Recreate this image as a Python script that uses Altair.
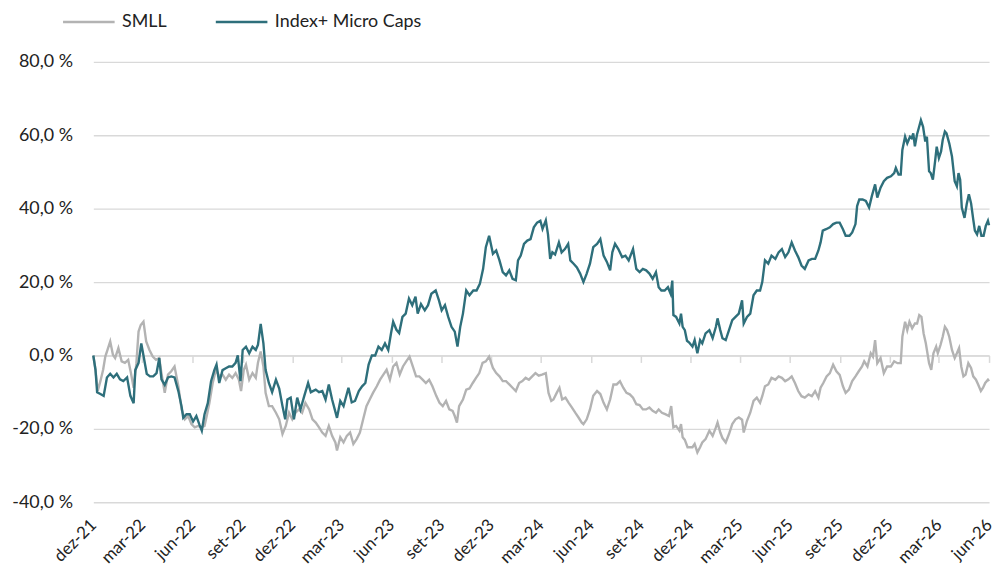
import altair as alt
import pandas as pd

# ---------------- data ----------------
smll_dates = [
    "2021-12-01", "2021-12-05", "2021-12-09", "2021-12-14", "2021-12-19", "2021-12-23", "2021-12-27",
    "2022-01-01", "2022-01-06", "2022-01-10", "2022-01-16", "2022-01-22", "2022-01-28", "2022-02-03",
    "2022-02-08", "2022-02-13", "2022-02-18", "2022-02-22", "2022-02-26", "2022-03-03", "2022-03-08",
    "2022-03-14", "2022-03-20", "2022-03-26", "2022-04-01", "2022-04-05", "2022-04-11", "2022-04-17",
    "2022-04-23", "2022-04-29", "2022-05-06", "2022-05-12", "2022-05-18", "2022-05-24", "2022-05-30",
    "2022-06-05", "2022-06-11", "2022-06-17", "2022-06-23", "2022-06-27", "2022-07-02", "2022-07-08",
    "2022-07-14", "2022-07-20", "2022-07-26", "2022-08-01", "2022-08-07", "2022-08-13", "2022-08-19",
    "2022-08-25", "2022-08-29", "2022-09-03", "2022-09-07", "2022-09-13", "2022-09-19", "2022-09-25",
    "2022-09-29", "2022-10-04", "2022-10-09", "2022-10-13", "2022-10-19", "2022-10-25", "2022-11-01",
    "2022-11-07", "2022-11-13", "2022-11-19", "2022-11-25", "2022-12-01", "2022-12-07", "2022-12-13",
    "2022-12-19", "2022-12-25", "2023-01-01", "2023-01-07", "2023-01-13", "2023-01-19", "2023-01-25",
    "2023-01-31", "2023-02-06", "2023-02-12", "2023-02-18", "2023-02-21", "2023-02-27", "2023-03-05",
    "2023-03-11", "2023-03-17", "2023-03-23", "2023-03-29", "2023-04-04", "2023-04-10", "2023-04-16",
    "2023-04-22", "2023-04-28", "2023-05-05", "2023-05-11", "2023-05-17", "2023-05-23", "2023-05-29",
    "2023-06-04", "2023-06-10", "2023-06-16", "2023-06-22", "2023-06-28", "2023-07-04", "2023-07-10",
    "2023-07-16", "2023-07-22", "2023-07-28", "2023-08-03", "2023-08-09", "2023-08-15", "2023-08-22",
    "2023-08-28", "2023-09-03", "2023-09-09", "2023-09-15", "2023-09-21", "2023-09-25", "2023-09-29",
    "2023-10-03", "2023-10-10", "2023-10-16", "2023-10-22", "2023-10-28", "2023-11-03", "2023-11-09",
    "2023-11-15", "2023-11-21", "2023-11-27", "2023-12-04", "2023-12-10", "2023-12-16", "2023-12-22",
    "2023-12-28", "2024-01-03", "2024-01-09", "2024-01-15", "2024-01-21", "2024-01-27", "2024-02-02",
    "2024-02-08", "2024-02-14", "2024-02-20", "2024-02-26", "2024-03-03", "2024-03-10", "2024-03-15",
    "2024-03-20", "2024-03-24", "2024-03-30", "2024-04-04", "2024-04-09", "2024-04-15", "2024-04-21",
    "2024-04-27", "2024-05-03", "2024-05-09", "2024-05-15", "2024-05-18", "2024-05-24", "2024-05-30",
    "2024-06-05", "2024-06-12", "2024-06-18", "2024-06-24", "2024-06-30", "2024-07-06", "2024-07-12",
    "2024-07-18", "2024-07-24", "2024-07-30", "2024-08-05", "2024-08-11", "2024-08-17", "2024-08-23",
    "2024-08-29", "2024-09-04", "2024-09-10", "2024-09-16", "2024-09-22", "2024-09-28", "2024-10-03",
    "2024-10-09", "2024-10-15", "2024-10-22", "2024-10-26", "2024-10-30", "2024-11-04", "2024-11-10",
    "2024-11-13", "2024-11-16", "2024-11-20", "2024-11-25", "2024-11-28", "2024-12-04", "2024-12-08",
    "2024-12-13", "2024-12-18", "2024-12-22", "2024-12-28", "2025-01-04", "2025-01-10", "2025-01-16",
    "2025-01-19", "2025-01-24", "2025-01-28", "2025-02-03", "2025-02-09", "2025-02-15", "2025-02-21",
    "2025-02-27", "2025-03-05", "2025-03-08", "2025-03-14", "2025-03-20", "2025-03-26", "2025-04-01",
    "2025-04-07", "2025-04-11", "2025-04-16", "2025-04-22", "2025-04-28", "2025-05-05", "2025-05-11",
    "2025-05-17", "2025-05-23", "2025-05-29", "2025-06-04", "2025-06-10", "2025-06-16", "2025-06-22",
    "2025-06-28", "2025-07-05", "2025-07-11", "2025-07-17", "2025-07-23", "2025-07-27", "2025-08-01",
    "2025-08-07", "2025-08-13", "2025-08-19", "2025-08-25", "2025-08-31", "2025-09-06", "2025-09-11",
    "2025-09-17", "2025-09-23", "2025-09-29", "2025-10-05", "2025-10-11", "2025-10-15", "2025-10-21",
    "2025-10-27", "2025-10-31", "2025-11-04", "2025-11-08", "2025-11-14", "2025-11-20", "2025-11-26",
    "2025-12-03", "2025-12-09", "2025-12-15", "2025-12-21", "2025-12-24", "2025-12-29", "2026-01-02",
    "2026-01-06", "2026-01-11", "2026-01-16", "2026-01-20", "2026-01-24", "2026-01-28", "2026-02-01",
    "2026-02-05", "2026-02-11", "2026-02-15", "2026-02-19", "2026-02-24", "2026-02-27", "2026-03-04",
    "2026-03-08", "2026-03-12", "2026-03-16", "2026-03-20", "2026-03-25", "2026-03-30", "2026-04-03",
    "2026-04-07", "2026-04-11", "2026-04-15", "2026-04-19", "2026-04-24", "2026-04-29", "2026-05-03",
    "2026-05-08", "2026-05-12", "2026-05-17", "2026-05-21", "2026-05-25", "2026-05-30", "2026-06-01",
]
smll_values = [
    0.0, -3.9, -9.7, -7.0, -3.9, -0.3, 1.5,
    3.8, 0.2, -0.7, 2.0, -1.6, -2.0, -1.2,
    -4.8, -8.8, -2.1, 6.5, 8.3, 9.2, 3.8,
    1.5, -0.3, -1.2, -0.7, -4.8, -10.2, -5.2,
    -4.3, -3.0, -8.4, -14.7, -17.4, -16.5, -18.7,
    -19.6, -19.2, -19.6, -19.2, -16.5, -12.9, -7.5,
    -3.9, -5.7, -5.2, -6.6, -5.2, -6.1, -4.8,
    -6.6, -9.7, -3.9, -2.5, -6.6, -4.8, -6.1,
    -2.0, 1.1, -3.0, -10.2, -13.8, -13.8, -15.6,
    -17.4, -21.4, -19.2, -15.6, -17.4, -15.6, -14.7,
    -15.6, -12.9, -14.7, -17.4, -18.3, -19.6, -21.0,
    -21.9, -19.2, -21.9, -23.7, -25.9, -22.3, -23.7,
    -21.9, -21.0, -24.1, -22.8, -21.0, -17.4, -13.8,
    -12.0, -10.2, -8.4, -6.6, -5.2, -3.9, -6.6,
    -3.0, -2.0, -5.2, -3.0, -1.6, -0.3, -3.0,
    -5.7, -5.7, -6.6, -7.5, -6.6, -8.4, -11.0,
    -12.9, -13.8, -12.4, -14.7, -15.1, -16.5, -18.3,
    -13.8, -12.0, -9.3, -9.0, -7.5, -6.1, -4.8,
    -2.0, -1.6, -0.3, -3.4, -4.8, -5.7, -7.0,
    -7.0, -7.9, -8.8, -9.7, -7.5, -7.0, -6.1,
    -6.6, -5.7, -4.8, -5.5, -5.2, -4.8, -10.2,
    -12.4, -12.0, -10.2, -8.8, -12.0, -11.5, -12.9,
    -14.2, -15.6, -16.9, -18.3, -18.7, -17.4, -14.7,
    -11.0, -9.7, -10.5, -12.9, -14.7, -12.0, -7.9,
    -7.9, -7.0, -8.8, -10.2, -10.6, -11.5, -13.3,
    -13.5, -14.7, -14.7, -14.2, -15.1, -15.6, -14.7,
    -15.6, -16.0, -16.5, -13.8, -19.6, -19.2, -20.5,
    -18.7, -22.3, -23.0, -25.0, -25.0, -25.0, -24.1,
    -26.4, -25.0, -23.7, -22.8, -20.5, -21.9, -19.6,
    -18.3, -21.0, -22.5, -23.7, -21.4, -18.7, -17.4,
    -16.9, -17.5, -21.0, -17.8, -15.6, -12.4, -11.5,
    -12.9, -11.1, -8.4, -7.9, -6.1, -6.6, -5.7,
    -6.1, -7.0, -6.5, -5.7, -7.5, -9.7, -11.1,
    -11.5, -10.6, -11.1, -9.7, -11.5, -8.8, -7.5,
    -5.7, -4.8, -2.5, -4.3, -5.3, -8.4, -10.2,
    -9.3, -7.0, -5.7, -4.3, -3.0, -1.6, -3.0,
    0.6, -0.3, 4.2, -2.1, -0.7, -4.8, -3.0,
    -3.0, -1.6, -2.1, -2.1, 5.1, 9.2, 6.9,
    9.2, 7.4, 8.7, 8.7, 11.0, 10.5, 6.0,
    3.3, -2.1, -3.9, 0.6, 2.4, 0.6, 2.9,
    5.1, 7.8, 6.9, 5.1, 1.5, -0.7, 0.6,
    2.0, -3.0, -5.7, -5.2, -2.1, -3.4, -5.7,
    -6.6, -7.9, -9.7, -8.8, -7.5, -6.6, -7.0,
]

micro_dates = [
    "2021-12-01", "2021-12-05", "2021-12-08", "2021-12-14", "2021-12-20", "2021-12-26", "2022-01-01",
    "2022-01-07", "2022-01-13", "2022-01-19", "2022-01-25", "2022-02-01", "2022-02-07", "2022-02-13",
    "2022-02-16", "2022-02-22", "2022-02-27", "2022-03-03", "2022-03-09", "2022-03-15", "2022-03-21",
    "2022-03-27", "2022-04-01", "2022-04-05", "2022-04-11", "2022-04-17", "2022-04-23", "2022-04-29",
    "2022-05-06", "2022-05-12", "2022-05-15", "2022-05-21", "2022-05-27", "2022-06-02", "2022-06-08",
    "2022-06-14", "2022-06-18", "2022-06-23", "2022-06-29", "2022-07-05", "2022-07-11", "2022-07-15",
    "2022-07-20", "2022-07-26", "2022-08-01", "2022-08-07", "2022-08-13", "2022-08-19", "2022-08-23",
    "2022-08-28", "2022-09-01", "2022-09-07", "2022-09-13", "2022-09-19", "2022-09-25", "2022-09-29",
    "2022-10-04", "2022-10-09", "2022-10-13", "2022-10-19", "2022-10-25", "2022-11-01", "2022-11-07",
    "2022-11-13", "2022-11-18", "2022-11-22", "2022-11-28", "2022-12-04", "2022-12-10", "2022-12-16",
    "2022-12-23", "2022-12-30", "2023-01-04", "2023-01-13", "2023-01-19", "2023-01-25", "2023-01-31",
    "2023-02-06", "2023-02-12", "2023-02-21", "2023-02-27", "2023-03-05", "2023-03-14", "2023-03-20",
    "2023-03-26", "2023-04-02", "2023-04-08", "2023-04-14", "2023-04-20", "2023-04-26", "2023-05-02",
    "2023-05-08", "2023-05-14", "2023-05-20", "2023-05-26", "2023-05-31", "2023-06-04", "2023-06-10",
    "2023-06-15", "2023-06-21", "2023-06-27", "2023-07-03", "2023-07-09", "2023-07-15", "2023-07-19",
    "2023-07-25", "2023-08-01", "2023-08-07", "2023-08-13", "2023-08-21", "2023-08-27", "2023-09-01",
    "2023-09-07", "2023-09-13", "2023-09-19", "2023-09-25", "2023-09-30", "2023-10-05", "2023-10-10",
    "2023-10-16", "2023-10-22", "2023-10-29", "2023-11-04", "2023-11-10", "2023-11-16", "2023-11-21",
    "2023-11-27", "2023-12-04", "2023-12-10", "2023-12-16", "2023-12-22", "2023-12-28", "2024-01-03",
    "2024-01-09", "2024-01-15", "2024-01-19", "2024-01-24", "2024-01-30", "2024-02-05", "2024-02-11",
    "2024-02-17", "2024-02-23", "2024-02-29", "2024-03-04", "2024-03-10", "2024-03-14", "2024-03-18",
    "2024-03-22", "2024-03-27", "2024-04-03", "2024-04-08", "2024-04-14", "2024-04-20", "2024-04-24",
    "2024-04-30", "2024-05-06", "2024-05-12", "2024-05-18", "2024-05-24", "2024-05-30", "2024-06-05",
    "2024-06-12", "2024-06-18", "2024-06-24", "2024-06-30", "2024-07-06", "2024-07-10", "2024-07-15",
    "2024-07-21", "2024-07-28", "2024-08-03", "2024-08-09", "2024-08-17", "2024-08-23", "2024-08-29",
    "2024-09-04", "2024-09-10", "2024-09-16", "2024-09-22", "2024-09-28", "2024-10-03", "2024-10-08",
    "2024-10-14", "2024-10-20", "2024-10-25", "2024-10-28", "2024-10-30", "2024-11-04", "2024-11-10",
    "2024-11-13", "2024-11-16", "2024-11-20", "2024-11-24", "2024-11-28", "2024-12-04", "2024-12-08",
    "2024-12-13", "2024-12-18", "2024-12-22", "2024-12-28", "2025-01-04", "2025-01-10", "2025-01-16",
    "2025-01-19", "2025-01-24", "2025-01-28", "2025-02-03", "2025-02-09", "2025-02-15", "2025-02-21",
    "2025-02-27", "2025-03-05", "2025-03-08", "2025-03-14", "2025-03-20", "2025-03-26", "2025-04-01",
    "2025-04-07", "2025-04-11", "2025-04-16", "2025-04-22", "2025-04-28", "2025-05-05", "2025-05-11",
    "2025-05-17", "2025-05-23", "2025-05-29", "2025-06-04", "2025-06-10", "2025-06-16", "2025-06-22",
    "2025-06-28", "2025-07-05", "2025-07-11", "2025-07-17", "2025-07-23", "2025-07-27", "2025-07-31",
    "2025-08-06", "2025-08-13", "2025-08-19", "2025-08-25", "2025-08-31", "2025-09-06", "2025-09-11",
    "2025-09-18", "2025-09-23", "2025-09-29", "2025-10-02", "2025-10-06", "2025-10-12", "2025-10-18",
    "2025-10-24", "2025-10-29", "2025-11-04", "2025-11-08", "2025-11-14", "2025-11-20", "2025-11-26",
    "2025-12-03", "2025-12-09", "2025-12-12", "2025-12-17", "2025-12-21", "2025-12-24", "2025-12-29",
    "2026-01-02", "2026-01-07", "2026-01-10", "2026-01-13", "2026-01-16", "2026-01-20", "2026-01-23",
    "2026-01-27", "2026-01-31", "2026-02-04", "2026-02-07", "2026-02-11", "2026-02-14", "2026-02-18",
    "2026-02-22", "2026-02-25", "2026-03-01", "2026-03-05", "2026-03-08", "2026-03-12", "2026-03-15",
    "2026-03-20", "2026-03-25", "2026-03-30", "2026-04-03", "2026-04-06", "2026-04-09", "2026-04-12",
    "2026-04-17", "2026-04-21", "2026-04-25", "2026-04-29", "2026-05-03", "2026-05-06", "2026-05-10",
    "2026-05-14", "2026-05-18", "2026-05-22", "2026-05-26", "2026-05-30", "2026-06-01",
]
micro_values = [
    0.0, -3.9, -10.0, -10.5, -11.0, -6.0, -5.0,
    -6.0, -5.0, -6.5, -7.0, -6.0, -11.0, -13.0,
    -4.0, -2.0, 3.3, 0.0, -5.0, -5.7, -5.7,
    -4.8, -0.7, -6.5, -8.0, -6.0, -5.7, -6.0,
    -9.7, -14.0, -17.0, -16.0, -16.0, -18.0, -16.5,
    -19.0, -20.5, -16.0, -13.0, -7.0, -4.0, -2.5,
    -7.5, -4.0, -3.5, -3.0, -3.0, -2.0, 0.0,
    -7.0, 1.5, 2.4, 0.6, 2.4, 1.5, 2.9,
    8.6, 3.3, -3.9, -7.5, -10.0, -6.6, -9.0,
    -13.8, -17.4, -12.0, -11.5, -17.4, -11.5, -14.7,
    -11.0, -7.5, -10.0, -9.3, -10.0, -9.7, -12.0,
    -7.9, -12.0, -17.0, -12.4, -13.8, -8.8, -12.8,
    -12.4, -9.7, -8.4, -7.5, -2.5, 0.0, 0.0,
    2.4, 1.5, 3.3, 1.5, 6.0, 9.2, 7.0,
    6.1, 10.5, 11.4, 15.5, 13.7, 16.0, 11.4,
    14.0, 12.3, 13.7, 16.8, 17.7, 15.0, 12.3,
    13.7, 10.5, 7.8, 6.5, 2.4, 7.8, 11.4,
    17.7, 16.4, 17.7, 17.7, 19.5, 23.6, 29.5,
    32.6, 27.7, 28.6, 25.9, 22.7, 21.8, 23.2,
    20.9, 20.5, 25.9, 27.2, 30.4, 31.3, 31.7,
    34.9, 36.2, 36.7, 34.5, 36.8, 33.0, 26.3,
    28.1, 27.5, 30.8, 28.1, 29.0, 30.4, 25.9,
    25.0, 24.0, 22.3, 20.0, 22.3, 25.0, 29.5,
    30.4, 31.7, 27.2, 25.5, 23.2, 28.1, 30.4,
    29.0, 26.8, 27.2, 25.9, 29.0, 23.6, 22.7,
    23.6, 23.2, 22.3, 20.9, 22.7, 18.6, 17.7,
    17.7, 18.6, 16.8, 20.4, 11.0, 10.5, 8.7,
    11.4, 7.8, 6.9, 4.0, 3.5, 2.4, 4.2,
    0.6, 4.2, 3.3, 6.0, 6.9, 4.7, 7.8,
    10.1, 6.9, 4.7, 4.2, 6.9, 9.6, 10.5,
    11.4, 15.0, 8.7, 10.5, 11.4, 16.4, 17.7,
    17.7, 20.0, 25.9, 25.0, 27.2, 26.3, 28.1,
    29.0, 26.8, 28.1, 30.8, 28.6, 26.8, 24.5,
    23.6, 25.9, 26.3, 26.3, 28.6, 30.8, 34.0,
    34.4, 34.9, 35.8, 36.2, 36.2, 34.4, 32.6,
    32.6, 33.5, 35.8, 40.7, 42.5, 42.5, 42.1,
    40.3, 43.4, 46.6, 43.0, 45.7, 47.5, 48.4,
    48.8, 49.7, 51.1, 49.3, 49.3, 56.0, 59.6,
    57.8, 59.6, 59.2, 60.5, 57.0, 60.3, 61.9,
    64.1, 62.3, 58.3, 59.6, 50.2, 49.7, 47.9,
    52.9, 56.9, 53.8, 55.6, 58.7, 61.0, 60.5,
    57.8, 54.2, 47.5, 46.1, 49.7, 47.9, 40.3,
    37.5, 41.2, 43.9, 41.5, 37.1, 34.0, 33.0,
    35.3, 32.6, 32.6, 35.3, 36.7, 35.5,
]

series_names = ["SMLL", "Index+ Micro Caps"]
series_colors = ["#b3b3b3", "#2e6f7b"]

y_ticks = [-40, -20, 0, 20, 40, 60, 80]
x_tick_months = [
    (2021, 12), (2022, 3), (2022, 6), (2022, 9), (2022, 12), (2023, 3), (2023, 6),
    (2023, 9), (2023, 12), (2024, 3), (2024, 6), (2024, 9), (2024, 12), (2025, 3),
    (2025, 6), (2025, 9), (2025, 12), (2026, 3), (2026, 6),
]
month_abbr = ["jan", "fev", "mar", "abr", "mai", "jun", "jul", "ago", "set", "out", "nov", "dez"]

# ---------------- build ----------------
df_smll = pd.DataFrame({"date": pd.to_datetime(smll_dates), "value": smll_values, "series": series_names[0]})
df_micro = pd.DataFrame({"date": pd.to_datetime(micro_dates), "value": micro_values, "series": series_names[1]})

FONT = "Lato"
TEXT = "#222222"
GRID = "#d9d9d9"

x_values = [alt.DateTime(year=y, month=m, date=1) for (y, m) in x_tick_months]
month_js = "[" + ",".join("'%s'" % m for m in month_abbr) + "]"

x_enc = alt.X(
    "date:T",
    scale=alt.Scale(domain=[alt.DateTime(year=2021, month=12, date=1),
                            alt.DateTime(year=2026, month=6, date=1)]),
    axis=alt.Axis(
        values=x_values,
        labelExpr=month_js + "[month(datum.value)] + '-' + timeFormat(datum.value, '%y')",
        labelAngle=-45,
        labelAlign="right",
        labelBaseline="middle",
        offset=-148,
        labelPadding=161,
        tickSize=7,
        tickWidth=1.5,
        tickColor=GRID,
        domainColor=GRID,
        domainWidth=1.5,
        grid=False,
        title=None,
        labelFont=FONT,
        labelFontSize=17,
        labelColor=TEXT,
        labelFlush=False,
        labelOverlap=False,
    ),
)

y_enc = alt.Y(
    "value:Q",
    scale=alt.Scale(domain=[-40, 80], nice=False, zero=False),
    axis=alt.Axis(
        values=y_ticks,
        labelExpr="(datum.value < 0 ? '-' : '') + replace(format(abs(datum.value), '.1f'), '.', ',') + ' %'",
        domain=False,
        ticks=False,
        tickSize=0,
        labelPadding=21,
        gridColor=GRID,
        gridWidth=1.3,
        title=None,
        labelFont=FONT,
        labelFontSize=18,
        labelColor=TEXT,
    ),
)

color_enc = alt.Color(
    "series:N",
    scale=alt.Scale(domain=series_names, range=series_colors),
    legend=alt.Legend(
        title=None,
        orient="none",
        legendX=-32,
        legendY=-68,
        direction="horizontal",
        symbolType="stroke",
        symbolSize=2704,
        symbolStrokeWidth=2.5,
        labelFont=FONT,
        labelFontSize=18,
        labelColor=TEXT,
        labelOffset=6,
        columnPadding=44,
        padding=0,
    ),
)

grey = alt.Chart(df_smll).mark_line(strokeWidth=2.4).encode(x=x_enc, y=y_enc, color=color_enc)
teal = alt.Chart(df_micro).mark_line(strokeWidth=2.4).encode(x=x_enc, y=y_enc, color=color_enc)

chart = (
    alt.layer(grey, teal)
    .properties(
        width=903,
        height=444,
        autosize=alt.AutoSizeParams(type="none"),
        padding={"left": 86, "top": 52, "right": 6, "bottom": 66},
        background="white",
    )
    .configure_view(strokeWidth=0)
)

chart.save("out.html", embed_options={"renderer": "svg", "actions": False})
